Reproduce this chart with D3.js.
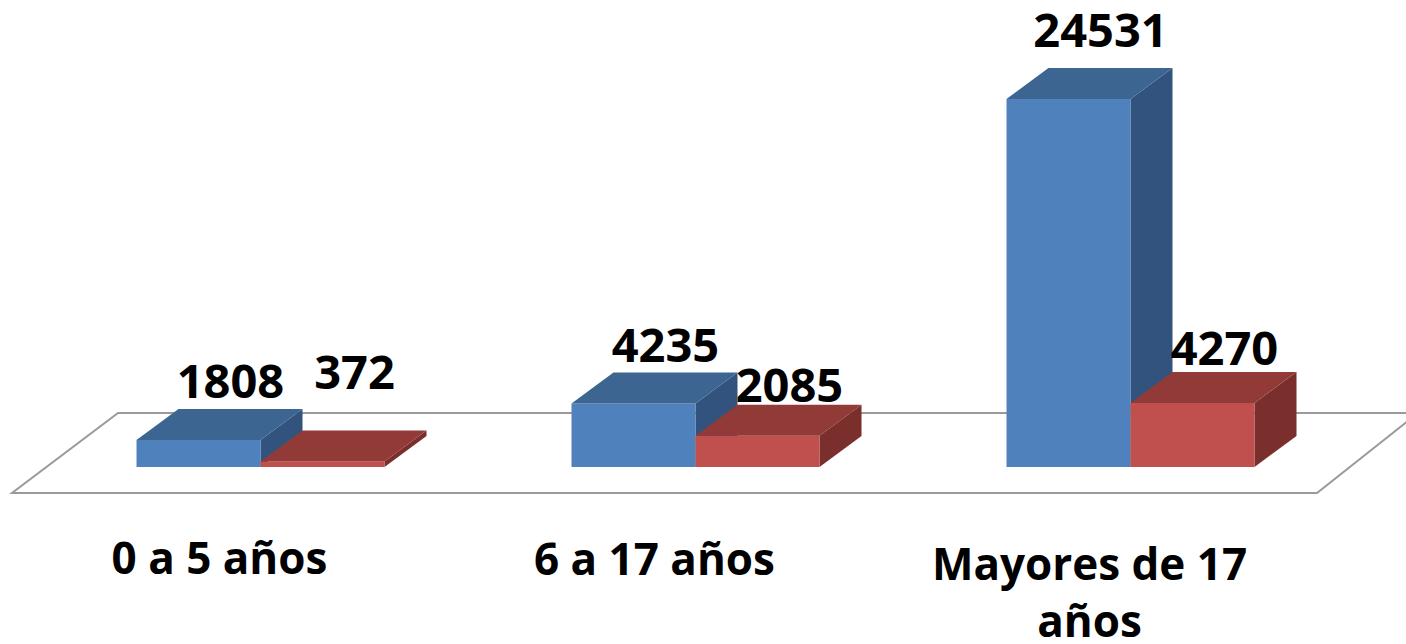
<!DOCTYPE html>
<html>
<head>
<meta charset="utf-8">
<script src="https://cdn.jsdelivr.net/npm/d3@7"></script>
<style>
  html, body { margin: 0; padding: 0; background: #ffffff; }
  svg { display: block; }
  text { font-family: "Open Sans", "Noto Sans", sans-serif; font-weight: 700; fill: #000; }
</style>
</head>
<body>
<svg id="chart" width="1406" height="644"></svg>
<script>
// ---- data ----
const categories = ["0 a 5 años", "6 a 17 años", "Mayores de 17 años"];
const seriesNames = ["Serie 1", "Serie 2"];
const series1 = [1808, 4235, 24531];
const series2 = [372, 2085, 4270];

// ---- layout ----
const W = 1406, H = 644;
const floorFrontY = 493, floorBackY = 413;
const floorFront = [12, 1317], floorBack = [118, 1418];
const baseY = 467;              // front-bottom of bars
const depthDx = 42, depthDy = 31; // bar depth projection
const barShift = 31;            // front of bars relative to floor front
const barWidth = 124;
const labelGap = [[11, 41], [10, 3], [21, 7]]; // lift of value labels above back top edge
const colors = [
  { front: "#4F81BD", top: "#3D6591", side: "#32537D" },
  { front: "#C0504D", top: "#913A38", side: "#7B2F2D" }
];

const svg = d3.select("#chart");

const x = d3.scaleBand().domain(categories).range(floorFront).padding(0);
const xBack = d3.scaleBand().domain(categories).range(floorBack).padding(0);
const x1 = d3.scaleBand().domain(seriesNames).range([-barWidth, barWidth]).padding(0);
const y = d3.scaleLinear().domain([0, 25000]).range([baseY, baseY - 375]);

// floor
const floor = svg.append("g");
floor.append("path")
  .attr("d", d3.line()([
    [floorFront[0], floorFrontY], [floorFront[1], floorFrontY],
    [floorBack[1], floorBackY], [floorBack[0], floorBackY]
  ]) + "Z")
  .attr("fill", "#ffffff")
  .attr("stroke", "#9a9a9a")
  .attr("stroke-width", 2);

// bars
const rows = categories.map((c, i) => ({ cat: c, i, vals: [series1[i], series2[i]] }));
const gBars = svg.append("g");
rows.forEach(r => {
  const cx = x(r.cat) + x.bandwidth() / 2 + barShift;
  r.vals.forEach((v, s) => {
    const x0 = cx + x1(seriesNames[s]);
    const xr = x0 + x1.bandwidth();
    const yt = y(v);
    const g = gBars.append("g");
    // side face
    g.append("path")
      .attr("d", d3.line()([[xr, yt], [xr + depthDx, yt - depthDy], [xr + depthDx, baseY - depthDy], [xr, baseY]]) + "Z")
      .attr("fill", colors[s].side);
    // front
    g.append("rect")
      .attr("x", x0).attr("y", yt)
      .attr("width", xr - x0).attr("height", baseY - yt)
      .attr("fill", colors[s].front);
    // top
    g.append("path")
      .attr("d", d3.line()([[x0, yt], [xr, yt], [xr + depthDx, yt - depthDy], [x0 + depthDx, yt - depthDy]]) + "Z")
      .attr("fill", colors[s].top);
  });
});

// value labels
rows.forEach(r => {
  const cx = x(r.cat) + x.bandwidth() / 2 + barShift;
  r.vals.forEach((v, s) => {
    const xc = cx + x1(seriesNames[s]) + x1.bandwidth() / 2 + 32;
    svg.append("text")
      .attr("x", xc)
      .attr("y", y(v) - depthDy - labelGap[r.i][s])
      .attr("text-anchor", "middle")
      .attr("font-size", 47)
      .text(v);
  });
});

// category labels
const catLines = [["0 a 5 años"], ["6 a 17 años"], ["Mayores de 17", "años"]];
const catBase = [574, 575, 580];
categories.forEach((c, i) => {
  const t = svg.append("text")
    .attr("x", x(c) + x.bandwidth() / 2 - 10)
    .attr("y", catBase[i])
    .attr("text-anchor", "middle")
    .attr("font-size", 44);
  catLines[i].forEach((ln, k) => {
    t.append("tspan")
      .attr("x", x(c) + x.bandwidth() / 2 - 10)
      .attr("dy", k === 0 ? 0 : 57)
      .text(ln);
  });
});
</script>
</body>
</html>
